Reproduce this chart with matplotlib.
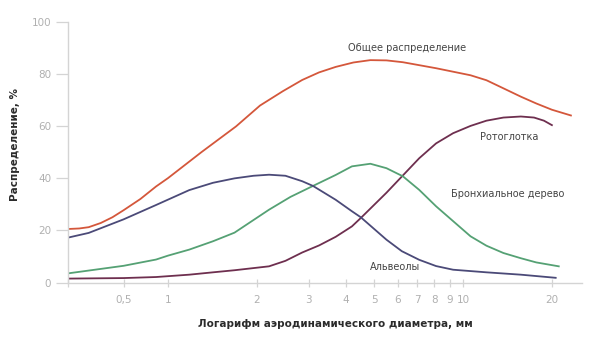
import numpy as np
import matplotlib
matplotlib.use('Agg')
import matplotlib.pyplot as plt
from matplotlib.ticker import FixedLocator, NullFormatter

# Particle deposition vs aerodynamic diameter
total_x = [0.21, 0.25, 0.29, 0.35, 0.42, 0.5, 0.65, 0.83, 1.0, 1.3, 1.7, 2.05, 2.45, 2.85, 3.25, 3.7, 4.25, 4.85, 5.5, 6.25, 8.1, 10.6, 12, 13.7, 15.7, 17.7, 20, 23.2]
total_y = [20.5, 20.7, 21.2, 22.8, 25.0, 27.7, 32.0, 36.8, 40, 50, 59.8, 67.8, 73.3, 77.6, 80.5, 82.6, 84.3, 85.2, 85.1, 84.4, 82.1, 79.4, 77.5, 74.4, 71.2, 68.6, 66.2, 64.0]

alv_x = [0.21, 0.29, 0.5, 0.83, 1.18, 1.42, 1.68, 1.95, 2.2, 2.5, 2.85, 3.1, 3.7, 4.2, 4.5, 5.5, 6.2, 7.1, 8.1, 9.25, 12, 15.7, 20.6]
alv_y = [17.2, 19, 24.2, 29.7, 35.4, 38.2, 39.9, 40.9, 41.3, 40.9, 38.8, 37.0, 31.7, 27.3, 25, 16.4, 12.0, 8.7, 6.3, 4.9, 3.9, 3.0, 1.8]

bronch_x = [0.21, 0.5, 0.83, 1.0, 1.18, 1.42, 1.68, 2.2, 2.6, 3.1, 3.7, 4.2, 4.85, 5.5, 6.25, 7.1, 8.1, 10.6, 12, 13.7, 15.7, 17.7, 21.1]
bronch_y = [3.5, 6.4, 8.8, 10.3, 12.6, 15.8, 19.1, 27.9, 32.8, 37.0, 41.2, 44.5, 45.5, 43.8, 40.7, 35.5, 29.2, 17.7, 14.1, 11.3, 9.3, 7.7, 6.2]

oro_x = [0.21, 0.5, 0.83, 1.18, 1.42, 1.68, 2.2, 2.5, 2.85, 3.25, 3.7, 4.2, 4.5, 5.5, 7.1, 8.1, 9.25, 10.6, 12, 13.7, 15.7, 17.4, 18.8, 20]
oro_y = [1.5, 1.7, 2.1, 3.0, 3.9, 4.7, 6.2, 8.3, 11.5, 14.2, 17.5, 21.5, 24.7, 34.4, 47.6, 53.3, 57.2, 60.0, 62, 63.2, 63.6, 63.2, 62.0, 60.3]

xticks = [0.5, 1, 2, 3, 4, 5, 6, 7, 8, 9, 10, 20]
xtick_labels = ['0,5', '1', '2', '3', '4', '5', '6', '7', '8', '9', '10', '20']
yticks = [0, 20, 40, 60, 80, 100]


# log axis, squeezed by half below 1
def fwd(x):
    x = np.asarray(x, dtype=float)
    lg = np.log10(np.clip(x, 1e-9, None))
    return np.where(lg < 0, 0.5 * lg, lg)


def inv(y):
    y = np.asarray(y, dtype=float)
    return np.where(y < 0, 10 ** (2 * y), 10 ** y)


fig = plt.figure(figsize=(5.91, 3.37), dpi=100)
ax = fig.add_axes([0.1151, 0.1617, 0.8697, 0.7745])

ax.plot(total_x, total_y, color='#d4573b', lw=1.3)
ax.plot(oro_x, oro_y, color='#6e2f4f', lw=1.3)
ax.plot(bronch_x, bronch_y, color='#55a174', lw=1.3)
ax.plot(alv_x, alv_y, color='#4b4a78', lw=1.3)

ax.set_xscale('function', functions=(fwd, inv))
ax.set_xlim(0.21, 25.3)
ax.set_ylim(0, 100)

ax.xaxis.set_major_locator(FixedLocator(xticks))
ax.set_xticklabels(xtick_labels)
ax.xaxis.set_minor_locator(FixedLocator([0.21]))
ax.xaxis.set_minor_formatter(NullFormatter())
ax.set_yticks(yticks)

grey = '#d4d4d4'
for s in ['top', 'right']:
    ax.spines[s].set_visible(False)
for s in ['left', 'bottom']:
    ax.spines[s].set_color(grey)
    ax.spines[s].set_linewidth(1.0)

ax.tick_params(axis='x', which='both', direction='inout', length=6, width=0.9,
               color=grey, labelcolor='#b0b0b0', labelsize=7.5, pad=6)
ax.tick_params(axis='y', direction='out', length=9, width=0.9,
               color=grey, labelcolor='#b0b0b0', labelsize=7.5, pad=3)

ax.set_xlabel('Логарифм аэродинамического диаметра, мм', fontsize=7.5,
              fontweight='bold', color='#2b2b2b')
ax.xaxis.set_label_coords(0.521, -0.138)
ax.set_ylabel('Распределение, %', fontsize=7.5, fontweight='bold', color='#2b2b2b')
ax.yaxis.set_label_coords(-0.093, 0.527)

lbl = dict(fontsize=7, color='#444444', ha='center', va='center')
ax.text(6.46, 89.8, 'Общее распределение', **lbl)
ax.text(14.3, 55.7, 'Ротоглотка', **lbl)
ax.text(14.2, 33.9, 'Бронхиальное дерево', **lbl)
ax.text(5.88, 5.9, 'Альвеолы', **lbl)

fig.savefig('out.png', dpi=100)
